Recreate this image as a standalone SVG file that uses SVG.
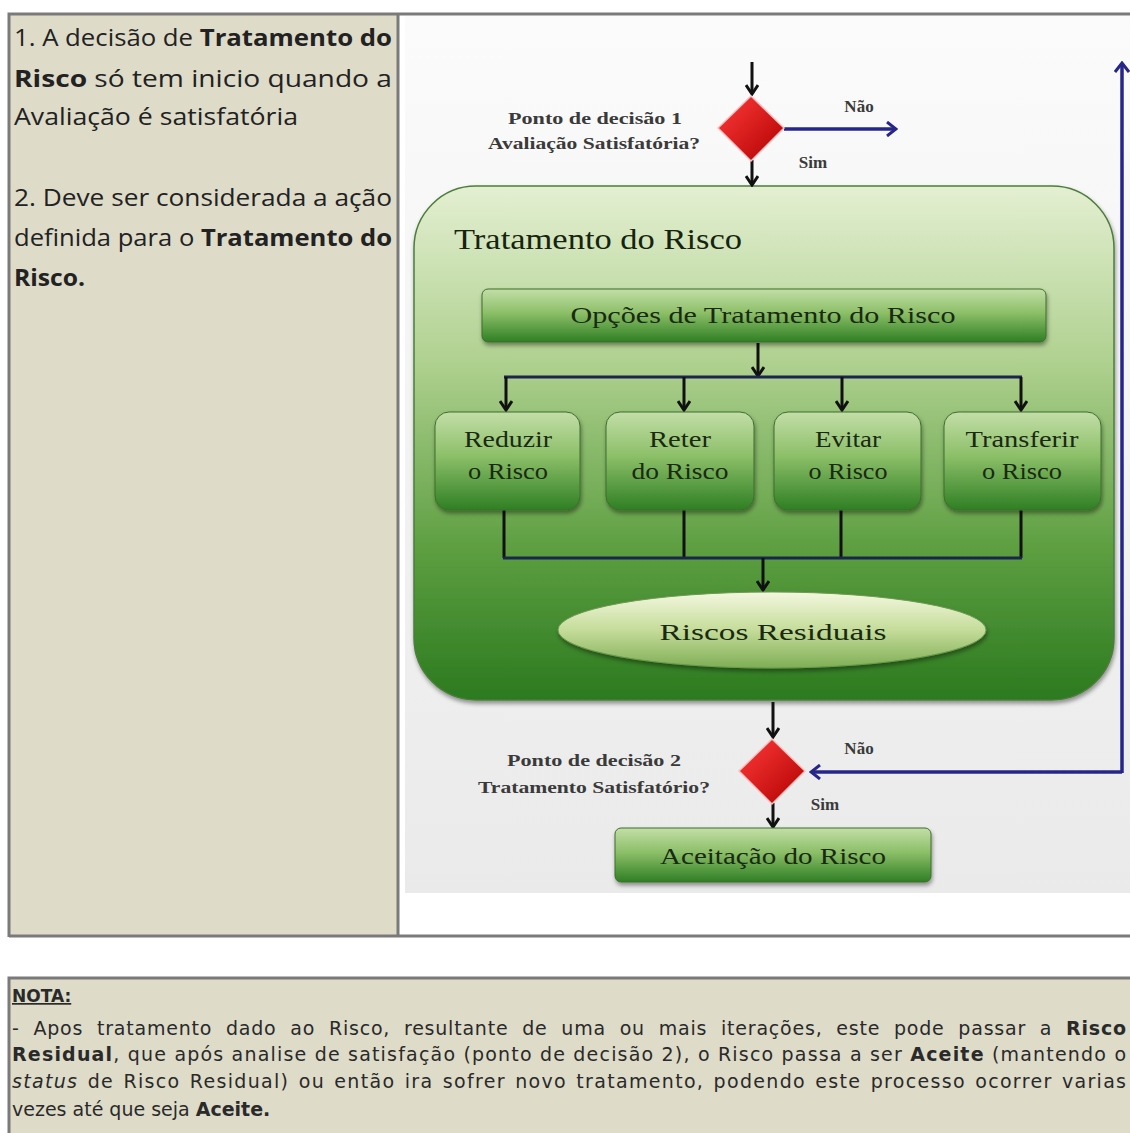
<svg xmlns="http://www.w3.org/2000/svg" width="1130" height="1133" viewBox="0 0 1130 1133">
  <style>
    .side { font-family: "Open Sans", "Liberation Sans", sans-serif; font-size: 24px; fill: #222; }
    .note { font-family: "DejaVu Sans", "Liberation Sans", sans-serif; font-size: 19px; fill: #2a2a2a; }
    .b { font-weight: bold; }
    .lbl { font-family: "Liberation Serif", serif; font-size: 17px; font-weight: bold; fill: #3a3a3a; text-anchor: middle; }
    .head { font-family: "Liberation Serif", serif; fill: #16240f; }
    .box-t { font-family: "Liberation Serif", serif; font-size: 23px; fill: #1a2a12; text-anchor: middle; }
    .wire { fill: none; stroke: #111; stroke-width: 3; }
    .bar { fill: none; stroke: #1c2450; stroke-width: 3; }
    .blue { fill: none; stroke: #26268a; stroke-width: 3.5; }
    .gbox { fill: url(#gBox); stroke: #3d6e2c; stroke-width: 1; filter: url(#shadow); }
  </style>
  <defs>
    <linearGradient id="gBg" x1="0" y1="0" x2="0" y2="1">
      <stop offset="0" stop-color="#fbfbfb"/>
      <stop offset="1" stop-color="#eaeaea"/>
    </linearGradient>
    <linearGradient id="gBig" x1="0" y1="0" x2="0" y2="1">
      <stop offset="0" stop-color="#e4efd2"/>
      <stop offset="0.35" stop-color="#aed08e"/>
      <stop offset="0.7" stop-color="#5e9f42"/>
      <stop offset="1" stop-color="#2c7a1f"/>
    </linearGradient>
    <linearGradient id="gBox" x1="0" y1="0" x2="0" y2="1">
      <stop offset="0" stop-color="#c3dea8"/>
      <stop offset="0.45" stop-color="#8cbf68"/>
      <stop offset="1" stop-color="#2f7f24"/>
    </linearGradient>
    <linearGradient id="gEll" x1="0" y1="0" x2="0" y2="1">
      <stop offset="0" stop-color="#f3f7df"/>
      <stop offset="0.5" stop-color="#c5dc9a"/>
      <stop offset="1" stop-color="#7fae55"/>
    </linearGradient>
    <linearGradient id="gRed" x1="0" y1="0" x2="1" y2="1">
      <stop offset="0" stop-color="#ff3a3a"/>
      <stop offset="1" stop-color="#b00000"/>
    </linearGradient>
    <filter id="shadow" x="-10%" y="-10%" width="120%" height="130%">
      <feDropShadow dx="1" dy="3" stdDeviation="2" flood-color="#000" flood-opacity="0.4"/>
    </filter>
    <marker id="ah" viewBox="0 0 12 14" refX="10" refY="7" markerWidth="12" markerHeight="14" markerUnits="userSpaceOnUse" orient="auto">
      <path d="M1,1 L10,7 L1,13" fill="none" stroke="#111" stroke-width="3"/>
    </marker>
    <marker id="ahb" viewBox="0 0 12 16" refX="10" refY="8" markerWidth="12" markerHeight="16" markerUnits="userSpaceOnUse" orient="auto">
      <path d="M1,1 L10,8 L1,15" fill="none" stroke="#26268a" stroke-width="3"/>
    </marker>
  </defs>

  <!-- page -->
  <rect width="1130" height="1133" fill="#fff"/>

  <!-- upper table -->
  <g id="table">
    <rect x="9" y="14" width="389" height="922" fill="#dedbc9"/>
    <rect x="400" y="16" width="730" height="920" fill="#fff"/>
    <rect x="405" y="16" width="725" height="877" fill="url(#gBg)"/>
    <path d="M9,937 L9,14 L1130,14" fill="none" stroke="#7a7a7a" stroke-width="3"/>
    <line x1="398" y1="14" x2="398" y2="937" stroke="#7a7a7a" stroke-width="3"/>
    <line x1="9" y1="936" x2="1130" y2="936" stroke="#7a7a7a" stroke-width="3"/>
  </g>

  <!-- side notes -->
  <g id="side-text" class="side">
    <text x="14" y="46" textLength="378" lengthAdjust="spacingAndGlyphs">1. A decisão de <tspan class="b">Tratamento do</tspan></text>
    <text x="14" y="87" textLength="378" lengthAdjust="spacingAndGlyphs"><tspan class="b">Risco</tspan>  só tem inicio  quando a</text>
    <text x="14" y="125" textLength="284" lengthAdjust="spacingAndGlyphs">Avaliação é satisfatória</text>
    <text x="14" y="206" textLength="378" lengthAdjust="spacingAndGlyphs">2. Deve ser considerada a ação</text>
    <text x="14" y="246" textLength="378" lengthAdjust="spacingAndGlyphs">definida para o <tspan class="b">Tratamento do</tspan></text>
    <text x="14" y="286" textLength="71" lengthAdjust="spacingAndGlyphs" class="b">Risco.</text>
  </g>

  <!-- treatment container -->
  <g id="tratamento">
    <rect x="414" y="186" width="700" height="514" rx="62" fill="url(#gBig)" stroke="#4d7d3c" stroke-width="1.5" filter="url(#shadow)"/>
    <text class="head" x="454" y="249" font-size="30" textLength="288" lengthAdjust="spacingAndGlyphs">Tratamento do Risco</text>
  </g>

  <!-- connectors -->
  <g id="connectors">
    <line class="wire" x1="752" y1="62" x2="752" y2="94" marker-end="url(#ah)"/>
    <line class="wire" x1="752" y1="160" x2="752" y2="185" marker-end="url(#ah)"/>
    <line class="blue" x1="784" y1="129" x2="896" y2="129" marker-end="url(#ahb)"/>
    <line class="wire" x1="758" y1="343" x2="758" y2="376" marker-end="url(#ah)"/>
    <line class="bar" x1="504" y1="377" x2="1022" y2="377"/>
    <line class="wire" x1="506" y1="377" x2="506" y2="410" marker-end="url(#ah)"/>
    <line class="wire" x1="684" y1="377" x2="684" y2="410" marker-end="url(#ah)"/>
    <line class="wire" x1="842" y1="377" x2="842" y2="410" marker-end="url(#ah)"/>
    <line class="wire" x1="1021" y1="377" x2="1021" y2="410" marker-end="url(#ah)"/>
    <path class="wire" d="M504,510 V558 M684,510 V558 M841,510 V558 M1021,510 V558"/>
    <line class="bar" x1="503" y1="558" x2="1022" y2="558"/>
    <line class="wire" x1="763" y1="558" x2="763" y2="590" marker-end="url(#ah)"/>
    <line class="wire" x1="773" y1="702" x2="773" y2="737" marker-end="url(#ah)"/>
    <line class="wire" x1="773" y1="803" x2="773" y2="827" marker-end="url(#ah)"/>
    <line class="blue" x1="1122" y1="772" x2="811" y2="772" marker-end="url(#ahb)"/>
    <line class="blue" x1="1122" y1="773" x2="1122" y2="63" marker-end="url(#ahb)"/>
  </g>

  <!-- decision point 1 -->
  <g id="decisao1">
    <polygon points="751,96 784,128 751,161 718,128" fill="url(#gRed)" stroke="#f4c0c0" stroke-width="1.5"/>
    <text class="lbl" x="595" y="124" textLength="174" lengthAdjust="spacingAndGlyphs">Ponto de decisão 1</text>
    <text class="lbl" x="594" y="149" textLength="212" lengthAdjust="spacingAndGlyphs">Avaliação Satisfatória?</text>
    <text class="lbl" x="859" y="112">Não</text>
    <text class="lbl" x="813" y="168">Sim</text>
  </g>

  <!-- treatment options -->
  <g id="opcoes">
    <rect class="gbox" x="482" y="289" width="564" height="53" rx="6"/>
    <text class="box-t" x="763" y="323" font-size="25" textLength="385" lengthAdjust="spacingAndGlyphs">Opções de Tratamento do Risco</text>
  </g>
  <g id="reduzir">
    <rect class="gbox" x="435" y="412" width="145" height="98" rx="14"/>
    <text class="box-t" x="508" y="447" textLength="88" lengthAdjust="spacingAndGlyphs">Reduzir</text>
    <text class="box-t" x="508" y="479" textLength="80" lengthAdjust="spacingAndGlyphs">o Risco</text>
  </g>
  <g id="reter">
    <rect class="gbox" x="606" y="412" width="148" height="98" rx="14"/>
    <text class="box-t" x="680" y="447" textLength="62" lengthAdjust="spacingAndGlyphs">Reter</text>
    <text class="box-t" x="680" y="479" textLength="97" lengthAdjust="spacingAndGlyphs">do Risco</text>
  </g>
  <g id="evitar">
    <rect class="gbox" x="774" y="412" width="147" height="98" rx="14"/>
    <text class="box-t" x="848" y="447" textLength="66" lengthAdjust="spacingAndGlyphs">Evitar</text>
    <text class="box-t" x="848" y="479" textLength="79" lengthAdjust="spacingAndGlyphs">o Risco</text>
  </g>
  <g id="transferir">
    <rect class="gbox" x="944" y="412" width="157" height="98" rx="14"/>
    <text class="box-t" x="1022" y="447" textLength="113" lengthAdjust="spacingAndGlyphs">Transferir</text>
    <text class="box-t" x="1022" y="479" textLength="80" lengthAdjust="spacingAndGlyphs">o Risco</text>
  </g>

  <!-- residual risks -->
  <g id="residuais">
    <ellipse cx="772" cy="630" rx="214" ry="38" fill="url(#gEll)" stroke="#6f9a50" stroke-width="1" filter="url(#shadow)"/>
    <text class="box-t" x="773" y="640" font-size="28" textLength="227" lengthAdjust="spacingAndGlyphs">Riscos Residuais</text>
  </g>

  <!-- decision point 2 -->
  <g id="decisao2">
    <polygon points="772,739 805,771 772,804 739,771" fill="url(#gRed)" stroke="#f4c0c0" stroke-width="1.5"/>
    <text class="lbl" x="594" y="766" textLength="174" lengthAdjust="spacingAndGlyphs">Ponto de decisão 2</text>
    <text class="lbl" x="594" y="793" textLength="232" lengthAdjust="spacingAndGlyphs">Tratamento Satisfatório?</text>
    <text class="lbl" x="859" y="754">Não</text>
    <text class="lbl" x="825" y="810">Sim</text>
  </g>

  <!-- acceptance -->
  <g id="aceitacao">
    <rect class="gbox" x="615" y="828" width="316" height="54" rx="6"/>
    <text class="box-t" x="773" y="864" font-size="25" textLength="226" lengthAdjust="spacingAndGlyphs">Aceitação do Risco</text>
  </g>

  <!-- note panel -->
  <g id="nota">
    <rect x="9" y="978" width="1125" height="160" fill="#dedbc9"/>
    <path d="M9,1133 L9,978 L1130,978" fill="none" stroke="#7a7a7a" stroke-width="3"/>
    <g class="note">
      <text x="12" y="1002" class="b" font-size="17" text-decoration="underline">NOTA:</text>
      <text x="12" y="1035" word-spacing="7" textLength="1114" lengthAdjust="spacing">- Apos tratamento dado ao Risco, resultante de uma ou mais iterações, este pode passar a <tspan class="b">Risco</tspan></text>
      <text x="12" y="1061" word-spacing="0" textLength="1114" lengthAdjust="spacing"><tspan class="b">Residual</tspan>, que após analise de satisfação (ponto de decisão 2), o Risco passa a ser <tspan class="b">Aceite</tspan> (mantendo o</text>
      <text x="12" y="1088" word-spacing="2" textLength="1114" lengthAdjust="spacing"><tspan font-style="italic">status</tspan>  de Risco Residual) ou então ira sofrer novo tratamento, podendo este processo ocorrer varias</text>
      <text x="12" y="1116">vezes até que seja <tspan class="b">Aceite.</tspan></text>
    </g>
  </g>
</svg>
